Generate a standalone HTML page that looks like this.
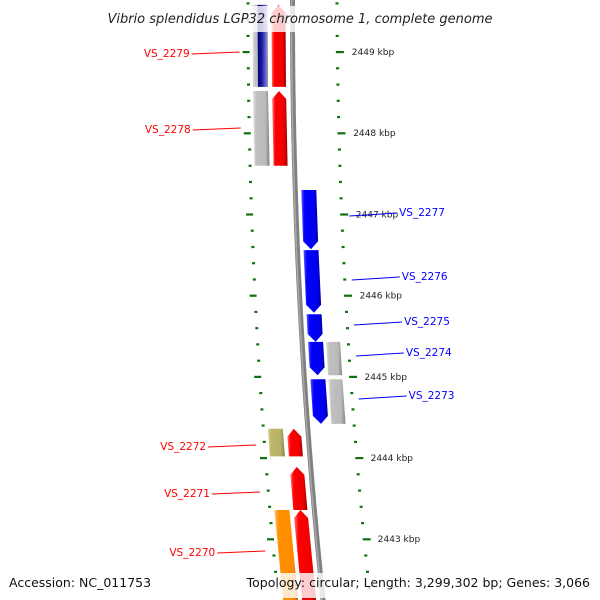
<!DOCTYPE html>
<html><head><meta charset="utf-8"><style>
html,body{margin:0;padding:0;background:#fff}
svg{display:block;font-family:"DejaVu Sans","Liberation Sans",sans-serif}
</style></head><body>
<svg id="map" width="600" height="600" viewBox="0 0 600 600" xmlns="http://www.w3.org/2000/svg">
<defs>
<linearGradient id="gRed" x1="0" x2="1" y1="0" y2="0"><stop offset="0" stop-color="#ff7a7a"/><stop offset="0.2" stop-color="#ff0000"/><stop offset="0.75" stop-color="#f00000"/><stop offset="1" stop-color="#a00000"/></linearGradient>
<linearGradient id="gBlue" x1="0" x2="1" y1="0" y2="0"><stop offset="0" stop-color="#5a5aff"/><stop offset="0.2" stop-color="#0000ff"/><stop offset="0.75" stop-color="#0000f0"/><stop offset="1" stop-color="#0000a0"/></linearGradient>
<linearGradient id="gGray" x1="0" x2="1" y1="0" y2="0"><stop offset="0" stop-color="#e0e0e0"/><stop offset="0.2" stop-color="#c0c0c0"/><stop offset="0.75" stop-color="#bababa"/><stop offset="1" stop-color="#808080"/></linearGradient>
<linearGradient id="gKhaki" x1="0" x2="1" y1="0" y2="0"><stop offset="0" stop-color="#dcd9a0"/><stop offset="0.2" stop-color="#bdb76b"/><stop offset="0.75" stop-color="#b8b268"/><stop offset="1" stop-color="#85804a"/></linearGradient>
<linearGradient id="gOrange" x1="0" x2="1" y1="0" y2="0"><stop offset="0" stop-color="#ffc060"/><stop offset="0.2" stop-color="#ff9000"/><stop offset="0.75" stop-color="#ff8c00"/><stop offset="1" stop-color="#b06000"/></linearGradient>
<linearGradient id="gNavy" x1="0" x2="1" y1="0" y2="0"><stop offset="0" stop-color="#000070"/><stop offset="0.45" stop-color="#1a1aa0"/><stop offset="1" stop-color="#8080e0"/></linearGradient>
</defs>
<g id="layer"></g>
<rect x="90" y="6" width="420" height="26" fill="#fff" opacity="0.8"/>
<text x="300" y="23" font-size="13" font-style="italic" text-anchor="middle" fill="#222">Vibrio splendidus LGP32 chromosome 1, complete genome</text>
<rect x="0" y="573" width="600" height="25" fill="#fff" opacity="0.8"/>
<text x="9" y="587" font-size="12.5" fill="#111">Accession: NC_011753</text>
<text x="590" y="587" font-size="12.5" text-anchor="end" fill="#111">Topology: circular; Length: 3,299,302 bp; Genes: 3,066</text>
</svg>
<script>
// genes (kbp) — forward strand (left), arrows point up
const fwdNames = ["VS_2279","VS_2278","VS_2272","VS_2271","VS_2270"];
const fwdStart = [2449.58,2448.52,2444.36,2443.89,2443.36];
const fwdEnd   = [2448.57,2447.60,2444.02,2443.36,2442.10];
// reverse strand (right), arrows point down
const revNames = ["VS_2277","VS_2276","VS_2275","VS_2274","VS_2273"];
const revStart = [2447.30,2446.56,2445.77,2445.43,2444.97];
const revEnd   = [2446.57,2445.79,2445.43,2445.02,2444.42];
// category tracks
const catLStart = [2449.58,2448.52,2444.36,2443.36];
const catLEnd   = [2448.57,2447.60,2444.02,2442.10];
const catLFill  = ["gGray","gGray","gKhaki","gOrange"];
const catRStart = [2445.43,2444.97];
const catREnd   = [2445.02,2444.42];
// tick labels
const tickLabels = [2449,2448,2447,2446,2445,2444,2443];

const NS="http://www.w3.org/2000/svg";
const layer=document.getElementById('layer');
const yOf=k=>52+(2449-k)*81.2;
const bx=y=>292.5-0.002*y+0.000088*y*y;
function mk(tag,attrs){const e=document.createElementNS(NS,tag);for(const k in attrs)e.setAttribute(k,attrs[k]);layer.appendChild(e);return e;}
function band(y1,y2,o1,o2,dir){ // dir: 1 up arrow, -1 down arrow, 0 none
  const p=[];const H=8;
  if(dir===1){const ym=Math.min(y1+H,y2);const c=(o1+o2)/2;
    p.push([bx(y1)+c,y1],[bx(ym)+o2,ym],[bx(y2)+o2,y2],[bx(y2)+o1,y2],[bx(ym)+o1,ym]);}
  else if(dir===-1){const ym=Math.max(y2-H,y1);const c=(o1+o2)/2;
    p.push([bx(y1)+o1,y1],[bx(y1)+o2,y1],[bx(ym)+o2,ym],[bx(y2)+c,y2],[bx(ym)+o1,ym]);}
  else p.push([bx(y1)+o1,y1],[bx(y1)+o2,y1],[bx(y2)+o2,y2],[bx(y2)+o1,y2]);
  return p.map(q=>q[0].toFixed(1)+','+q[1].toFixed(1)).join(' ');
}
// backbone
let pts=[];for(let y=-5;y<=605;y+=5)pts.push(bx(y).toFixed(1)+','+y);
let bb=mk('polyline',{points:pts.join(' '),fill:'none',stroke:'#808080','stroke-width':5});


let bb2=mk('polyline',{points:pts.map(s=>{const [x,y]=s.split(',');return (+x-1)+','+y}).join(' '),fill:'none',stroke:'#a8a8a8','stroke-width':1.5});


// ticks
for(let i=0;i<=38;i++){const k=2449.6-i*0.2;const y=yOf(k);const major=Math.abs(k-Math.round(k))<0.01;
  const xl=bx(y)-45, xr=bx(y)+44+3*(y/600);
  let t1=mk('rect',{x:(major?xl-5:xl-1).toFixed(1),y:(y-1).toFixed(1),width:major?7:3,height:2.2,fill:'#107010'});
  
  
  let t2=mk('rect',{x:(xr-1).toFixed(1),y:(y-1).toFixed(1),width:major?8:3,height:2.2,fill:'#107010'});
  
  
}
tickLabels.forEach(k=>{const y=yOf(k);
  let t=mk('text',{x:(bx(y)+59+2*(y/600)).toFixed(1),y:(y+3).toFixed(1),'font-size':9,fill:'#222'});
  t.textContent=k+' kbp';
  
  
});
// category tracks
catLStart.forEach((s,i)=>{let e=mk('polygon',{points:band(yOf(s),yOf(catLEnd[i]),-40,-25,0),fill:'url(#'+catLFill[i]+')'});
  
  });
{let e=mk('polygon',{points:band(yOf(2449.58),yOf(2448.57),-35,-26,0),fill:'url(#gNavy)'});
  
  }
catRStart.forEach((s,i)=>{let e=mk('polygon',{points:band(yOf(s),yOf(catREnd[i]),24,38,0),fill:'url(#gGray)'});
  
  });
// genes
fwdStart.forEach((s,i)=>{let e=mk('polygon',{points:band(yOf(s),yOf(fwdEnd[i]),-21,-7,1),fill:'url(#gRed)'});
  
  });
revStart.forEach((s,i)=>{let e=mk('polygon',{points:band(yOf(s),yOf(revEnd[i]),6,21,-1),fill:'url(#gBlue)'});
  
  });
// labels
const fwdLabelY=[53,129,446,493,552];
fwdNames.forEach((n,i)=>{const y=fwdLabelY[i];const xe=bx(y)-53;
  let l=mk('line',{x1:xe-48,y1:y+1,x2:xe,y2:y-1,stroke:'#ff0000','stroke-width':1});
  
  
  let t=mk('text',{x:xe-50,y:y+4,'font-size':10.5,'text-anchor':'end',fill:'#ff0000'});t.textContent=n;
  
  });
const revLabelY=[215,279,324,355,398];
revNames.forEach((n,i)=>{const y=revLabelY[i];const xs=bx(y)+53;
  let l=mk('line',{x1:xs,y1:y+1,x2:xs+48,y2:y-2,stroke:'#0000ff','stroke-width':1});
  
  
  let t=mk('text',{x:xs+50,y:y+1,'font-size':10.5,fill:'#0000ff'});t.textContent=n;
  
  });
</script>
</body></html>
